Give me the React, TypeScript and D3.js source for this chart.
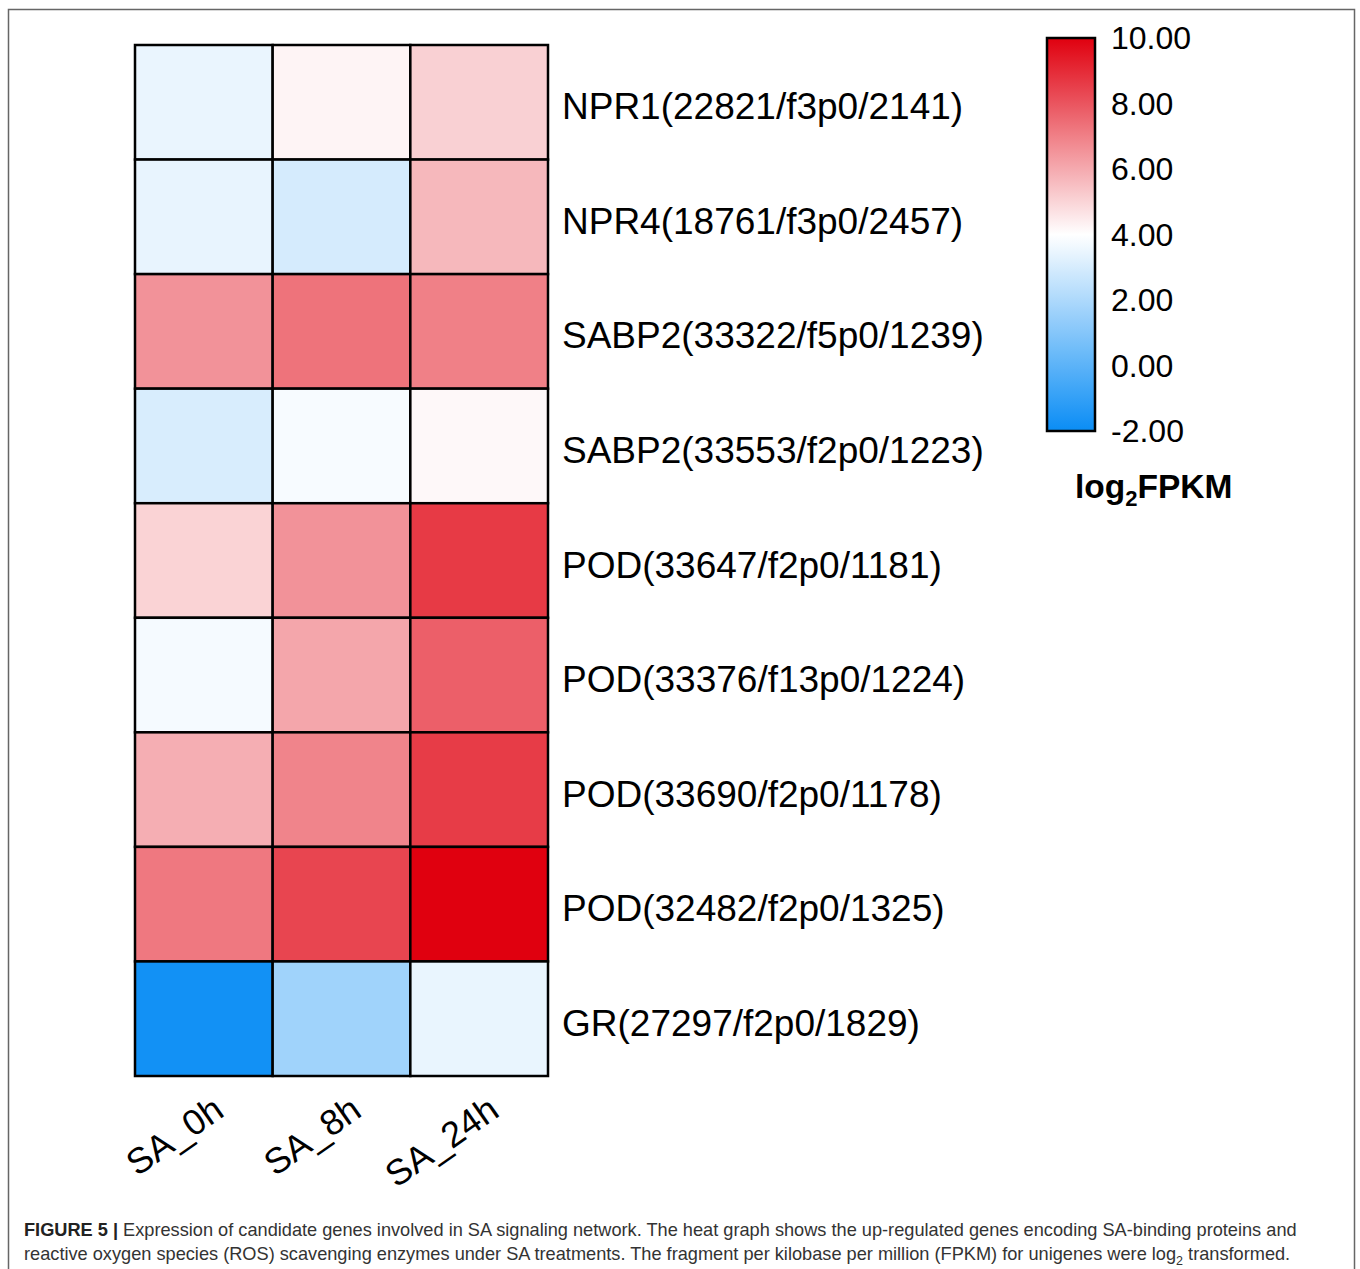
import React from "react";
import * as d3 from "d3";

const samples = ["SA_0h", "SA_8h", "SA_24h"];
const genes = [
  "NPR1(22821/f3p0/2141)",
  "NPR4(18761/f3p0/2457)",
  "SABP2(33322/f5p0/1239)",
  "SABP2(33553/f2p0/1223)",
  "POD(33647/f2p0/1181)",
  "POD(33376/f13p0/1224)",
  "POD(33690/f2p0/1178)",
  "POD(32482/f2p0/1325)",
  "GR(27297/f2p0/1829)",
];
const valsSA0h = [3.49, 3.44, 6.56, 3.04, 5.04, 3.76, 5.9, 7.18, -1.8];
const valsSA8h = [4.26, 2.97, 7.29, 3.8, 6.56, 6.09, 6.89, 8.38, 1.67];
const valsSA24h = [5.1, 5.67, 6.99, 4.16, 8.64, 7.76, 8.59, 10.0, 3.46];
const legendTicks = [-2, 0, 2, 4, 6, 8, 10];
const colorDomain = [-2, 4, 10];
const colorRange = ["#0a8df5", "#ffffff", "#e0000f"];

const font = "Liberation Sans, Arial, Helvetica, sans-serif";

export default function App() {
  const W = 1360, H = 1269;
  const x = d3.scaleBand<string>().domain(samples).range([135, 548]).padding(0);
  const y = d3.scaleBand<string>().domain(genes).range([45, 1076]).padding(0);
  const color = d3.scaleLinear<string>().domain(colorDomain).range(colorRange).interpolate(d3.interpolateRgb);
  const cols = [valsSA0h, valsSA8h, valsSA24h];
  const cells: { s: string; g: string; v: number }[] = [];
  samples.forEach((s, i) => genes.forEach((g, j) => cells.push({ s, g, v: cols[i][j] })));

  const lx = 1047, lw = 48;
  const ly = d3.scaleLinear().domain([-2, 10]).range([431, 38]);
  const stops = d3.range(0, 1.0001, 0.05).map((t) => ({ t, c: color(-2 + 12 * t) }));

  return (
    <svg width={W} height={H} style={{ position: "absolute", left: 0, top: 0, background: "#fff" }} fontFamily={font}>
      <defs>
        <linearGradient id="lg" x1="0" y1="1" x2="0" y2="0">
          {stops.map((s, i) => (
            <stop key={i} offset={s.t} stopColor={s.c} />
          ))}
        </linearGradient>
      </defs>
      <rect x={8.5} y={9.5} width={1346} height={1270} fill="none" stroke="#666" strokeWidth={1.5} />
      {cells.map((c, i) => (
        <rect key={i} x={x(c.s)} y={y(c.g)} width={x.bandwidth()} height={y.bandwidth()} fill={color(c.v)} stroke="#000" strokeWidth={2.5} />
      ))}
      {genes.map((g) => (
        <text key={g} x={562} y={(y(g) as number) + y.bandwidth() / 2 + 17} fontSize={37} fill="#000">
          {g}
        </text>
      ))}
      {samples.map((s) => {
        const cx = (x(s) as number) + x.bandwidth() / 2 + 22;
        return (
          <text key={s} transform={`translate(${cx},${1115}) rotate(-35)`} textAnchor="end" fontSize={36} fill="#000">
            {s}
          </text>
        );
      })}
      <rect x={lx} y={38} width={lw} height={393} fill="url(#lg)" stroke="#000" strokeWidth={2.5} />
      {legendTicks.map((t) => (
        <text key={t} x={1111} y={ly(t) + 11} fontSize={32} fill="#000">
          {t.toFixed(2)}
        </text>
      ))}
      <text x={1075} y={498} fontSize={33.5} fontWeight="bold" fill="#000">
        log<tspan fontSize={22} dy={8}>2</tspan><tspan dy={-8}>FPKM</tspan>
      </text>
      <text x={24} y={1236} fontSize={18.2} fill="#333">
        <tspan fontWeight="bold" fill="#222">FIGURE 5 | </tspan>
        Expression of candidate genes involved in SA signaling network. The heat graph shows the up-regulated genes encoding SA-binding proteins and
      </text>
      <text x={24} y={1260} fontSize={18.2} fill="#333">
        reactive oxygen species (ROS) scavenging enzymes under SA treatments. The fragment per kilobase per million (FPKM) for unigenes were log
        <tspan fontSize={12.5} dy={5}>2</tspan>
        <tspan dy={-5}> transformed.</tspan>
      </text>
    </svg>
  );
}
